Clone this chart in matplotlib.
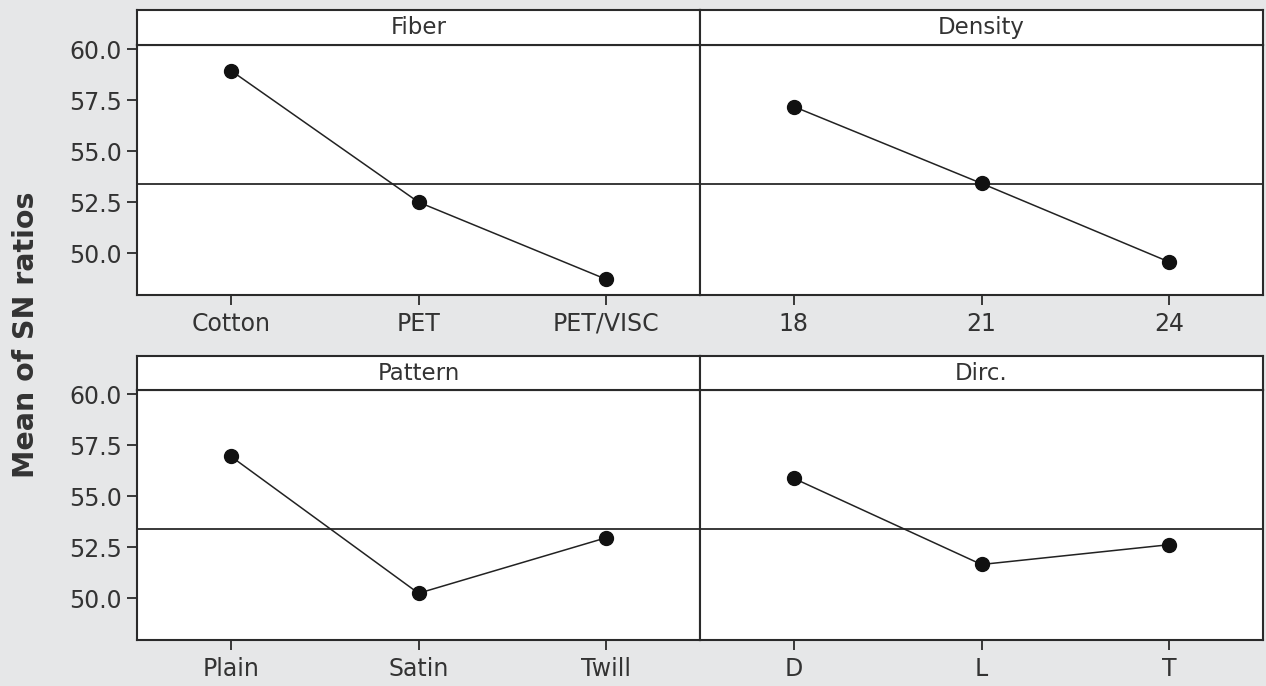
import numpy as np
import matplotlib
matplotlib.use("Agg")
import matplotlib.pyplot as plt

# factor names and levels
factors = ["Fiber", "Density", "Pattern", "Dirc."]
fiber_levels = ["Cotton", "PET", "PET/VISC"]
density_levels = ["18", "21", "24"]
pattern_levels = ["Plain", "Satin", "Twill"]
dirc_levels = ["D", "L", "T"]

# mean of SN ratios per level
fiber_sn = [58.95, 52.50, 48.72]
density_sn = [57.18, 53.42, 49.57]
pattern_sn = [56.95, 50.24, 52.96]
dirc_sn = [55.87, 51.65, 52.62]

grand_mean = 53.39
yticks = [50.0, 52.5, 55.0, 57.5, 60.0]

bg = "#e6e7e8"
txt = "#333333"
edge = "#2a2a2a"

fig = plt.figure(figsize=(12.66, 6.86), dpi=100, facecolor=bg)
plt.rcParams["font.family"] = "DejaVu Sans"

panels = [
    (factors[0], fiber_levels, fiber_sn, 137, 45, 10),
    (factors[1], density_levels, density_sn, 700, 45, 10),
    (factors[2], pattern_levels, pattern_sn, 137, 390, 356),
    (factors[3], dirc_levels, dirc_sn, 700, 390, 356),
]
W, H = 1266, 686
pw, ph = 563, 250

for i, (name, levels, vals, x0, ytop, stop) in enumerate(panels):
    ax = fig.add_axes([x0 / W, 1 - (ytop + ph) / H, pw / W, ph / H])
    ax.set_facecolor("white")
    xs = np.arange(len(levels))
    ax.axhline(grand_mean, color=edge, lw=1.3, zorder=1)
    ax.plot(xs, vals, color="#222222", lw=1.1, marker="o", ms=10,
            mfc="#111111", mec="#111111", zorder=3)
    ax.set_xlim(-0.5, 2.5)
    ax.set_ylim(47.95, 60.2)
    ax.set_xticks(xs)
    ax.set_xticklabels(levels)
    ax.tick_params(axis="x", length=7, width=1.3, color=edge, labelsize=17,
                   labelcolor=txt, pad=5)
    if i % 2 == 0:
        ax.set_yticks(yticks)
        ax.set_yticklabels([f"{t:.1f}" for t in yticks])
        ax.tick_params(axis="y", length=7, width=1.3, color=edge, labelsize=17,
                       labelcolor=txt, pad=4)
    else:
        ax.set_yticks([])
    for s in ax.spines.values():
        s.set_color(edge)
        s.set_linewidth(1.5)

    # strip with factor name
    sax = fig.add_axes([x0 / W, 1 - ytop / H, pw / W, (ytop - stop) / H])
    sax.set_facecolor("white")
    sax.set_xticks([])
    sax.set_yticks([])
    for s in sax.spines.values():
        s.set_color(edge)
        s.set_linewidth(1.5)
    sax.text(0.5, 0.5, name, ha="center", va="center", fontsize=16.5,
             color=txt, transform=sax.transAxes)

fig.text(26 / W, 1 - 335 / H, "Mean of SN ratios", rotation=90, ha="center",
         va="center", fontsize=20.5, fontweight="bold", color=txt)

fig.savefig("out.png", dpi=100, facecolor=bg)
